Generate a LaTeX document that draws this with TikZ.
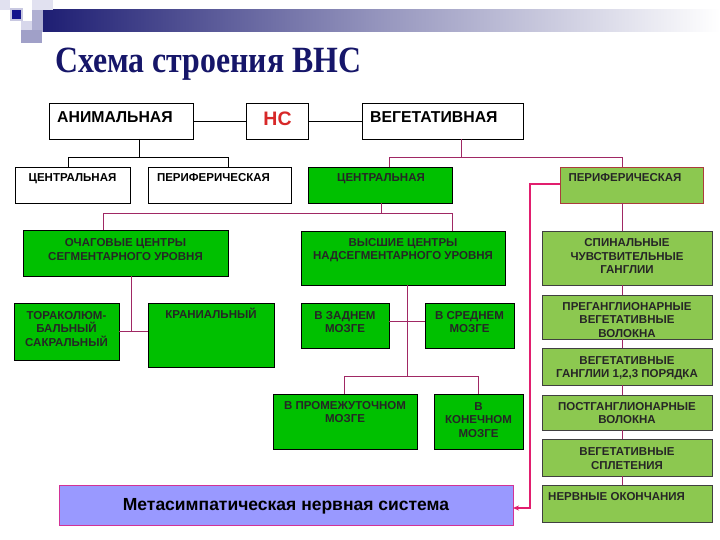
\documentclass[tikz,border=0pt]{standalone}
\usepackage{fontspec}
\usepackage{graphicx}
\setmainfont{Liberation Sans}
\newfontfamily\titlefont{Liberation Serif}
\usetikzlibrary{arrows.meta}
\definecolor{gdark}{RGB}{0,192,0}
\definecolor{glight}{RGB}{140,200,80}
\definecolor{navyc}{RGB}{22,22,105}
\definecolor{lnk}{RGB}{160,40,100}
\definecolor{pinkln}{RGB}{225,30,110}
\definecolor{lav}{RGB}{153,153,255}
\definecolor{redtxt}{RGB}{215,40,40}
\definecolor{brownb}{RGB}{170,60,60}
\definecolor{metab}{RGB}{210,50,150}
\definecolor{barL}{RGB}{30,30,115}
\definecolor{barM}{RGB}{150,150,190}
\definecolor{dA}{RGB}{175,175,210}
\definecolor{dB}{RGB}{225,225,240}
\definecolor{dC}{RGB}{200,200,225}
\definecolor{dD}{RGB}{20,20,140}
\definecolor{dE}{RGB}{160,160,200}
\definecolor{dF}{RGB}{215,215,235}
\newcommand\mybox[6]{\node[#1, minimum width={(#5-#3)*1pt}, minimum height={(#6-#4)*1pt}] (#2) at (#3,#4) {};}
\tikzset{
  box/.style={draw=black, line width=0.8pt, fill=white, rectangle, inner sep=0pt, outer sep=0pt, anchor=north west},
  gbox/.style={box, fill=gdark},
  lbox/.style={box, fill=glight, draw=black!75},
  txt/.style={font=\fontsize{11.5}{13.5}\selectfont\bfseries, align=center, anchor=base, inner sep=0pt, text=black!85},
  bigtxt/.style={font=\fontsize{15.8}{18}\selectfont\bfseries, anchor=base west, inner sep=0pt},
  blk/.style={draw=black, line width=0.8pt},
  vln/.style={draw=lnk, line width=0.8pt},
}
\begin{document}
\begin{tikzpicture}[x=1pt,y=-1pt]
\useasboundingbox (0,0) rectangle (720,540);
% decoration
\fill[white] (0,0) rectangle (720,540);
\shade[left color=barL, right color=white, middle color=barM] (43,10) rectangle (720,32);
\fill[dA] (32,10) rectangle (43,32);
\fill[dB] (0,0) rectangle (10,10);
\fill[dB] (32,0) rectangle (53,10);
\fill[dC] (10,8) rectangle (23,21);
\fill[dD] (12,10) rectangle (21,19);
\fill[dE] (21,30) rectangle (42,43);
\fill[dF] (21,21) rectangle (32,30);
% title
\node[anchor=base west, inner sep=0pt, font=\titlefont\bfseries\fontsize{37}{42}\selectfont, text=navyc] (title) at (55,73) {\scalebox{0.86}[1]{Схема строения ВНС}};
% boxes
\mybox{box}{anim}{49}{103}{193}{139}
\mybox{box}{ns}{246}{103}{308}{139}
\mybox{box}{veg}{362}{103}{523}{139}
\mybox{box}{acen}{15}{167}{130}{203}
\mybox{box}{aper}{148}{167}{291}{203}
\mybox{gbox}{vcen}{308}{167}{452}{203}
\mybox{lbox,draw=brownb}{vper}{560}{167}{703}{203}
\mybox{gbox}{och}{23}{230}{228}{276}
\mybox{gbox}{vys}{301}{231}{505}{285}
\mybox{gbox}{tor}{14}{303}{119}{360}
\mybox{gbox}{kra}{148}{303}{274}{367}
\mybox{gbox}{zad}{301}{303}{389}{348}
\mybox{gbox}{sre}{425}{303}{514}{348}
\mybox{gbox}{pro}{273}{394}{417}{449}
\mybox{gbox}{kon}{434}{394}{523}{449}
\mybox{lbox}{spi}{542}{231}{712}{285}
\mybox{lbox}{pre}{542}{295}{712}{339}
\mybox{lbox}{gan}{542}{348}{712}{385}
\mybox{lbox}{pos}{542}{395}{712}{430}
\mybox{lbox}{spl}{542}{439}{712}{476}
\mybox{lbox}{ner}{542}{485}{712}{522}
\mybox{box,fill=lav,draw=metab}{meta}{59}{485}{513}{525}
% texts (anchor base = baseline of the last line)
\node[bigtxt] (tanim) at (57,123) {АНИМАЛЬНАЯ};
\node[anchor=base, inner sep=0pt, font=\fontsize{19.5}{21}\selectfont\bfseries, text=redtxt] (tns) at (277.5,126) {НС};
\node[bigtxt] (tveg) at (370,123) {ВЕГЕТАТИВНАЯ};
\node[txt,text=black] (tacen) at (72.5,182) {ЦЕНТРАЛЬНАЯ};
\node[txt,text=black] (taper) at (213.5,182) {ПЕРИФЕРИЧЕСКАЯ};
\node[txt] (tvcen) at (381,182) {ЦЕНТРАЛЬНАЯ};
\node[txt] (tvper) at (625,182) {ПЕРИФЕРИЧЕСКАЯ};
\node[txt] (toch) at (125.5,260.5) {ОЧАГОВЫЕ ЦЕНТРЫ\\СЕГМЕНТАРНОГО УРОВНЯ};
\node[txt] (tvys) at (403,259.5) {ВЫСШИЕ ЦЕНТРЫ\\НАДСЕГМЕНТАРНОГО УРОВНЯ};
\node[txt] (ttor) at (66.5,346) {ТОРАКОЛЮМ-\\БАЛЬНЫЙ\\САКРАЛЬНЫЙ};
\node[txt] (tkra) at (211,318) {КРАНИАЛЬНЫЙ};
\node[txt] (tzad) at (345,332.5) {В ЗАДНЕМ\\МОЗГЕ};
\node[txt] (tsre) at (469.5,332.5) {В СРЕДНЕМ\\МОЗГЕ};
\node[txt] (tpro) at (345,422.5) {В ПРОМЕЖУТОЧНОМ\\МОЗГЕ};
\node[txt] (tkon) at (478.5,437) {В\\КОНЕЧНОМ\\МОЗГЕ};
\node[txt] (tspi) at (627,273.5) {СПИНАЛЬНЫЕ\\ЧУВСТВИТЕЛЬНЫЕ\\ГАНГЛИИ};
\node[txt] (tpre) at (627,337) {ПРЕГАНГЛИОНАРНЫЕ\\ВЕГЕТАТИВНЫЕ\\ВОЛОКНА};
\node[txt] (tgan) at (627,377.5) {ВЕГЕТАТИВНЫЕ\\ГАНГЛИИ 1,2,3 ПОРЯДКА};
\node[txt] (tpos) at (627,423.5) {ПОСТГАНГЛИОНАРНЫЕ\\ВОЛОКНА};
\node[txt] (tspl) at (627,469) {ВЕГЕТАТИВНЫЕ\\СПЛЕТЕНИЯ};
\node[txt, anchor=base west] (tner) at (548,500) {НЕРВНЫЕ ОКОНЧАНИЯ};
\node[anchor=base, inner sep=0pt, font=\fontsize{17.5}{19}\selectfont\bfseries] (tmeta) at (286,510) {Метасимпатическая нервная система};
% connectors: animal
\coordinate (j1) at (139,157);
\coordinate (a1) at (68,157);
\coordinate (a2) at (228,157);
\draw[blk] (anim.east) -- (ns.west);
\draw[blk] (ns.east) -- (veg.west);
\draw[blk] (anim.south -| j1) -- (j1);
\draw[blk] (acen.north -| a1) -- (a1) -- (a2) -- (aper.north -| a2);
% vegetative
\coordinate (v0) at (461,157);
\coordinate (v1) at (389,157);
\coordinate (v2) at (622,157);
\draw[vln] (veg.south -| v0) -- (v0);
\draw[vln] (vcen.north -| v1) -- (v1) -- (v2) -- (vper.north -| v2);
\coordinate (c0) at (381,213);
\coordinate (c1) at (103,213);
\coordinate (c2) at (452,213);
\draw[vln] (vcen.south -| c0) -- (c0);
\draw[vln] (och.north -| c1) -- (c1) -- (c2) -- (vys.north -| c2);
\coordinate (o0) at (131,331);
\draw[vln] (och.south -| o0) -- (o0);
\draw[vln] (tor.east |- o0) -- (kra.west |- o0);
\coordinate (h0) at (407,376);
\coordinate (h1) at (344,376);
\coordinate (h2) at (478,376);
\coordinate (m0) at (407,321);
\draw[vln] (vys.south -| h0) -- (h0);
\draw[vln] (zad.east |- m0) -- (sre.west |- m0);
\draw[vln] (pro.north -| h1) -- (h1) -- (h2) -- (kon.north -| h2);
\draw[vln] (vper.south -| v2) -- (spi.north -| v2);
\draw[vln] (spi.south -| v2) -- (pre.north -| v2);
\draw[vln] (pre.south -| v2) -- (gan.north -| v2);
\draw[vln] (gan.south -| v2) -- (pos.north -| v2);
\draw[vln] (pos.south -| v2) -- (spl.north -| v2);
\draw[vln] (spl.south -| v2) -- (ner.north -| v2);
% pink arrow
\coordinate (p1) at (530,184);
\coordinate (p2) at (530,508);
\draw[pinkln, line width=2pt, -{Stealth[length=6pt,width=5pt]}] (vper.west |- p1) -- (p1) -- (p2) -- (meta.east |- p2);
\end{tikzpicture}
\end{document}
